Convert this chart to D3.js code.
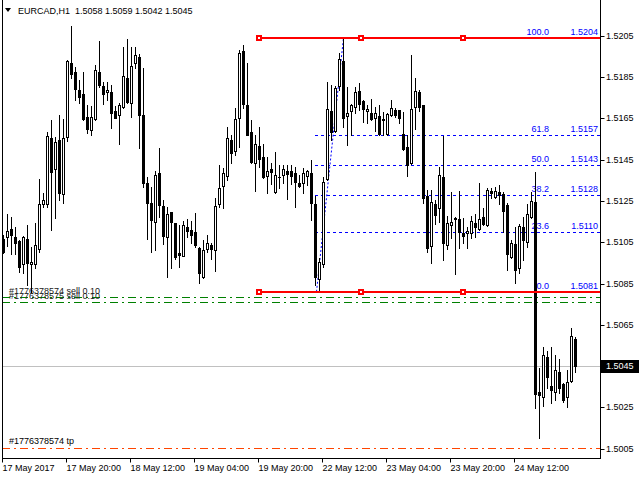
<!DOCTYPE html>
<html><head><meta charset="utf-8">
<script src="https://cdn.jsdelivr.net/npm/d3@7"></script>
<style>
body{margin:0;background:#fff}
svg{display:block}
text{font-family:"Liberation Sans",Arial,sans-serif;font-size:9px}
</style>
</head><body>
<svg id="chart" width="640" height="480"></svg>
<script>
const symbolTitle = "EURCAD,H1  1.5058 1.5059 1.5042 1.5045";
const opens = [1.51064,1.51075,1.51112,1.51075,1.51056,1.50943,1.51064,1.50943,1.50943,1.51017,
1.51233,1.51233,1.51556,1.51403,1.51545,1.51282,1.51561,1.51916,1.51873,1.51787,
1.51768,1.51655,1.51593,1.51645,1.51873,1.51806,1.51776,1.51777,1.51685,1.51664,
1.51703,1.51845,1.51722,1.51916,1.51947,1.51664,1.51335,1.51238,1.51150,1.51384,
1.51226,1.51074,1.51195,1.51143,1.50996,1.50985,1.51122,1.51109,1.51099,1.51022,
1.50880,1.51017,1.51035,1.51012,1.51233,1.51324,1.51372,1.51545,1.51493,1.51653,
1.51976,1.51714,1.51582,1.51432,1.51516,1.51464,1.51372,1.51405,1.51292,1.51367,
1.51374,1.51395,1.51395,1.51384,1.51338,1.51335,1.51372,1.51384,1.51235,1.50870,
1.50943,1.51355,1.51684,1.51590,1.51806,1.51926,1.51663,1.51684,1.51703,1.51784,
1.51734,1.51684,1.51674,1.51653,1.51663,1.51648,1.51572,1.51666,1.51692,1.51688,
1.51572,1.51513,1.51432,1.51703,1.51776,1.51713,1.51275,1.51033,1.51235,1.51214,
1.51364,1.51036,1.51133,1.51162,1.51162,1.51096,1.51093,1.51093,1.51141,1.51112,
1.51172,1.51133,1.51298,1.51270,1.51295,1.51283,1.51228,1.50980,1.51040,1.50923,
1.51122,1.51053,1.51170,1.51243,1.50323,1.50302,1.50492,1.50354,1.50323,1.50421,
1.50362,1.50302,1.50379,1.50580];
const highs = [1.51085,1.51185,1.51171,1.51125,1.51060,1.51082,1.51133,1.51028,1.51141,1.51356,
1.51287,1.51585,1.51642,1.51561,1.51666,1.51645,1.51930,1.52097,1.51900,1.51835,
1.51876,1.51714,1.51711,1.51908,1.52024,1.51827,1.51827,1.51811,1.51711,1.51722,
1.51997,1.52034,1.51997,1.51997,1.51961,1.51892,1.51367,1.51319,1.51395,1.51505,
1.51254,1.51222,1.51198,1.51145,1.51133,1.51151,1.51164,1.51151,1.51193,1.51028,
1.51061,1.51085,1.51048,1.51263,1.51424,1.51408,1.51610,1.51569,1.51698,1.51981,
1.52005,1.51916,1.51642,1.51569,1.51610,1.51524,1.51464,1.51432,1.51487,1.51422,
1.51424,1.51422,1.51424,1.51416,1.51376,1.51408,1.51400,1.51448,1.51274,1.50972,
1.51367,1.51827,1.51811,1.51806,1.51965,1.52040,1.51803,1.51718,1.51803,1.51819,
1.51739,1.51714,1.51742,1.51703,1.51714,1.51682,1.51677,1.51738,1.51701,1.51692,
1.51682,1.51569,1.51956,1.51843,1.51787,1.51714,1.51303,1.51303,1.51254,1.51416,
1.51564,1.51178,1.51295,1.51174,1.51298,1.51166,1.51125,1.51178,1.51185,1.51335,
1.51214,1.51314,1.51311,1.51319,1.51327,1.51295,1.51238,1.51061,1.51125,1.51136,
1.51174,1.51233,1.51295,1.51391,1.50439,1.50544,1.50523,1.50541,1.50504,1.50483,
1.50367,1.50431,1.50636,1.50590];
const lows = [1.50996,1.51033,1.50991,1.50991,1.50907,1.50899,1.50843,1.50810,1.50924,1.51004,
1.51222,1.51222,1.51109,1.51166,1.51254,1.51242,1.51542,1.51844,1.51739,1.51722,
1.51642,1.51577,1.51569,1.51642,1.51803,1.51718,1.51739,1.51601,1.51650,1.51524,
1.51698,1.51722,1.51655,1.51892,1.51505,1.51319,1.51064,1.51004,1.51012,1.51174,
1.51040,1.50880,1.50924,1.50967,1.50932,1.50983,1.51077,1.51045,1.51028,1.50851,
1.50875,1.51001,1.50970,1.50912,1.51222,1.51214,1.51351,1.51432,1.51472,1.51513,
1.51698,1.51569,1.51435,1.51300,1.51416,1.51363,1.51287,1.51330,1.51290,1.51311,
1.51335,1.51261,1.51332,1.51222,1.51319,1.51287,1.51327,1.51158,1.50843,1.50820,
1.50932,1.51351,1.51545,1.51585,1.51787,1.51610,1.51521,1.51569,1.51677,1.51690,
1.51634,1.51626,1.51642,1.51590,1.51569,1.51569,1.51569,1.51661,1.51658,1.51626,
1.51496,1.51370,1.51429,1.51596,1.51687,1.51241,1.51004,1.50951,1.51138,1.51149,
1.50964,1.51017,1.51069,1.50894,1.51020,1.51044,1.51020,1.51069,1.51077,1.51109,
1.51133,1.51130,1.51262,1.51262,1.51233,1.51101,1.50915,1.50972,1.50854,1.50899,
1.50964,1.51028,1.51165,1.50249,1.50100,1.50258,1.50342,1.50270,1.50286,1.50318,
1.50278,1.50250,1.50375,1.50420];
const closes = [1.51001,1.51104,1.51083,1.51045,1.50932,1.51075,1.50951,1.50952,1.51035,1.51233,
1.51254,1.51563,1.51392,1.51535,1.51288,1.51555,1.51926,1.51863,1.51792,1.51752,
1.51645,1.51597,1.51658,1.51882,1.51811,1.51766,1.51787,1.51674,1.51653,1.51713,
1.51855,1.51731,1.51903,1.51957,1.51664,1.51335,1.51242,1.51158,1.51376,1.51230,
1.51080,1.51187,1.51150,1.50980,1.50988,1.51132,1.51103,1.51083,1.51037,1.50899,
1.51012,1.51045,1.51017,1.51226,1.51311,1.51384,1.51553,1.51484,1.51647,1.51968,
1.51719,1.51571,1.51440,1.51526,1.51451,1.51364,1.51395,1.51392,1.51374,1.51364,
1.51403,1.51379,1.51372,1.51343,1.51324,1.51384,1.51395,1.51242,1.50880,1.50953,
1.51343,1.51693,1.51582,1.51795,1.51936,1.51653,1.51674,1.51714,1.51776,1.51719,
1.51693,1.51693,1.51645,1.51674,1.51572,1.51642,1.51672,1.51701,1.51666,1.51650,
1.51501,1.51424,1.51693,1.51784,1.51703,1.51262,1.51020,1.51243,1.51182,1.51375,
1.51044,1.51145,1.51149,1.51169,1.51101,1.51080,1.51104,1.51153,1.51122,1.51162,
1.51136,1.51303,1.51287,1.51300,1.51279,1.51203,1.50993,1.51044,1.50915,1.51130,
1.51061,1.51187,1.51251,1.50313,1.50312,1.50502,1.50399,1.50333,1.50431,1.50342,
1.50286,1.50373,1.50596,1.50450];

const timeLabels = ["17 May 2017","17 May 20:00","18 May 12:00","19 May 04:00","19 May 20:00","22 May 12:00","23 May 04:00","23 May 20:00","24 May 12:00"];
const timeLabelBars = [0,16,32,48,64,80,96,112,128];
const priceTicks = [1.5205,1.5185,1.5165,1.5145,1.5125,1.5105,1.5085,1.5065,1.5025,1.5005];
const bidPrice = 1.5045;
const fibLow = 1.5081, fibHigh = 1.5204;
const fibLevels = [0, 23.6, 38.2, 50, 61.8, 100];
const fibLevelLabels = ["0.0","23.6","38.2","50.0","61.8","100.0"];
const fibPriceLabels = ["1.5081","1.5110","1.5128","1.5143","1.5157","1.5204"];
const fibStartBar = 78, fibEndBar = 85;
const redLineStartBar = 64, redLineEndBar = 115;
const orderLevels = [1.50786, 1.50762];
const orderLabels = ["#1776378574 sell 0.10", "#1776378575 sell 0.10"];
const tpLevel = 1.50052;
const tpLabel = "#1776378574 tp";

const svg = d3.select("#chart");
const plotLeft = 2, plotRight = 600, plotBottom = 458, plotTop = 0;

const x = d3.scaleLinear().domain([0, 143]).range([3.3, 575.3]);
const y = d3.scaleLinear().domain([1.5005, 1.5205]).range([448.7, 35.7]);
const px = i => Math.round(x(i));
const crisp = v => Math.round(v) + 0.5;

svg.append("defs").append("clipPath").attr("id","plotclip")
  .append("rect").attr("x",plotLeft+1).attr("y",plotTop).attr("width",plotRight-plotLeft-1).attr("height",plotBottom-plotTop);

const plot = svg.append("g").attr("clip-path","url(#plotclip)");

// bid line
plot.append("line").attr("x1",plotLeft).attr("x2",plotRight)
  .attr("y1",crisp(y(bidPrice))).attr("y2",crisp(y(bidPrice)))
  .attr("stroke","#c0c0c0").attr("stroke-width",1);

// order lines
orderLevels.forEach((p,k)=>{
  plot.append("line").attr("x1",plotLeft).attr("x2",plotRight)
    .attr("y1",crisp(y(p))).attr("y2",crisp(y(p)))
    .attr("stroke","#008000").attr("stroke-width",1).attr("stroke-dasharray","8,4,2,4");
  plot.append("text").attr("x",9).attr("y",Math.round(y(p))-3)
    .attr("fill","#202020").text(orderLabels[k]);
});
plot.append("line").attr("x1",plotLeft).attr("x2",plotRight)
  .attr("y1",crisp(y(tpLevel))).attr("y2",crisp(y(tpLevel)))
  .attr("stroke","#ff4500").attr("stroke-width",1).attr("stroke-dasharray","8,4,2,4");
plot.append("text").attr("x",9).attr("y",Math.round(y(tpLevel))-4)
  .attr("fill","#000").text(tpLabel);

// fibonacci
const fibPrice = l => fibLow + (fibHigh - fibLow) * l / 100;
fibLevels.forEach((l,k)=>{
  const yy = crisp(y(fibPrice(l)));
  plot.append("line").attr("x1",px(fibStartBar)).attr("x2",plotRight)
    .attr("y1",yy).attr("y2",yy).attr("stroke","#0000ff").attr("stroke-width",1)
    .attr("stroke-dasharray","3,3");
  plot.append("text").attr("x",549).attr("y",yy-3.5).attr("text-anchor","end")
    .attr("fill","#0000ff").text(fibLevelLabels[k]);
  plot.append("text").attr("x",598).attr("y",yy-3.5).attr("text-anchor","end")
    .attr("fill","#0000ff").text(fibPriceLabels[k]);
});
plot.append("line")
  .attr("x1",px(fibStartBar)+1.5).attr("y1",y(fibLow))
  .attr("x2",px(fibEndBar)+0.5).attr("y2",y(fibHigh))
  .attr("stroke","#0000ff").attr("stroke-width",1).attr("stroke-dasharray","2,2");

// candles
const data = opens.map((o,i)=>({i,o,h:highs[i],l:lows[i],c:closes[i]}));
const cg = plot.append("g");
data.forEach(d=>{
  const cx = px(d.i);
  cg.append("line").attr("x1",cx+0.5).attr("x2",cx+0.5)
    .attr("y1",Math.round(y(d.h))).attr("y2",Math.round(y(d.l))+1)
    .attr("stroke","#000").attr("stroke-width",1);
  const top = Math.round(y(Math.max(d.o,d.c)));
  const bot = Math.round(y(Math.min(d.o,d.c)));
  if (d.c < d.o) {
    cg.append("rect").attr("x",cx-1).attr("y",top).attr("width",3)
      .attr("height",Math.max(1,bot-top+1)).attr("fill","#000");
  } else {
    const h = Math.max(0, bot-top);
    cg.append("rect").attr("x",cx-0.5).attr("y",top+0.5).attr("width",2)
      .attr("height",h).attr("fill","#fff").attr("stroke","#000").attr("stroke-width",1);
  }
});

// red trend lines with handles
[fibHigh, fibLow].forEach(p=>{
  const yy = Math.round(y(p));
  plot.append("line").attr("x1",px(redLineStartBar)).attr("x2",plotRight)
    .attr("y1",yy).attr("y2",yy).attr("stroke","#ff0000").attr("stroke-width",2);
  [redLineStartBar,(redLineStartBar+redLineEndBar)/2,redLineEndBar].forEach(b=>{
    plot.append("rect").attr("x",Math.round(x(b))-2).attr("y",yy-2)
      .attr("width",4).attr("height",4).attr("fill","#fff")
      .attr("stroke","#ff0000").attr("stroke-width",2);
  });
});

// frame
svg.append("line").attr("x1",plotLeft+0.5).attr("x2",plotLeft+0.5).attr("y1",0).attr("y2",plotBottom+1)
  .attr("stroke","#000");
svg.append("line").attr("x1",plotRight+0.5).attr("x2",plotRight+0.5).attr("y1",0).attr("y2",plotBottom+1)
  .attr("stroke","#000");
svg.append("line").attr("x1",plotLeft).attr("x2",plotRight+1).attr("y1",plotBottom+0.5).attr("y2",plotBottom+0.5)
  .attr("stroke","#000");

// right axis
const yAxis = d3.axisRight(y).tickValues(priceTicks).tickFormat(d3.format(".4f")).tickSize(4).tickSizeOuter(0);
const ya = svg.append("g").attr("transform",`translate(${plotRight+0.5},0.5)`).call(yAxis);
ya.select(".domain").remove();
ya.selectAll(".tick").attr("transform",d=>`translate(0,${Math.round(y(d))})`);
ya.selectAll(".tick line").attr("stroke","#000");
ya.selectAll(".tick text").attr("x",5.5).attr("dy","0.32em").attr("fill","#000")
  .style("font-family","Liberation Sans, Arial, sans-serif").style("font-size","9px");

// current price box
const by = Math.round(y(bidPrice));
svg.append("rect").attr("x",601).attr("y",by-6).attr("width",38).attr("height",13).attr("fill","#000");
svg.append("text").attr("x",606).attr("y",by).attr("dy","0.32em").attr("fill","#fff").text(d3.format(".4f")(bidPrice));

// bottom axis
const xAxis = d3.axisBottom(x).tickValues(timeLabelBars).tickFormat((d,k)=>timeLabels[k]).tickSize(4).tickSizeOuter(0);
const xa = svg.append("g").attr("transform",`translate(0,${plotBottom+0.5})`).call(xAxis);
xa.select(".domain").remove();
xa.selectAll(".tick").attr("transform",d=>`translate(${Math.round(x(d))-0.5},0)`);
xa.selectAll(".tick line").attr("stroke","#000");
xa.selectAll(".tick text").attr("text-anchor","start").attr("x",0).attr("y",12.5).attr("dy",0)
  .attr("fill","#000").style("font-family","Liberation Sans, Arial, sans-serif").style("font-size","9px");

// title
svg.append("path").attr("d","M5,8 L11,8 L8,12 Z").attr("fill","#000");
svg.append("text").attr("x",18).attr("y",14).attr("fill","#000").attr("xml:space","preserve")
  .style("white-space","pre").text(symbolTitle);
</script>
</body></html>
